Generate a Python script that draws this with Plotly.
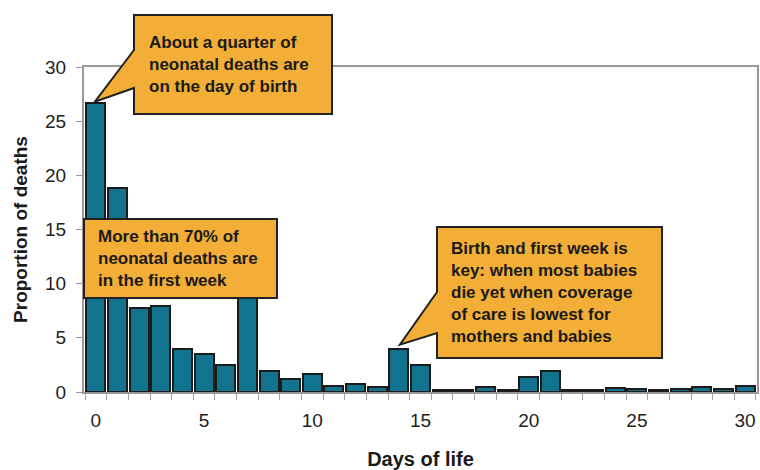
import plotly.graph_objects as go

# ---- data ----
days = list(range(0, 31))
proportion = [26.7, 18.8, 7.8, 7.9, 4.0, 3.5, 2.5, 11.0, 1.9, 1.2,
              1.7, 0.6, 0.7, 0.5, 4.0, 2.5, 0.2, 0.2, 0.45, 0.15,
              1.35, 1.9, 0.15, 0.15, 0.35, 0.25, 0.2, 0.25, 0.45, 0.25, 0.6]
x_ticks = [0, 5, 10, 15, 20, 25, 30]
y_ticks = [0, 5, 10, 15, 20, 25, 30]
note_birth = ["About a quarter of", "neonatal deaths are", "on the day of birth"]
note_week = ["More than 70% of", "neonatal deaths are", "in the first week"]
note_key = ["Birth and first week is", "key: when most babies", "die yet when coverage",
            "of care is lowest for", "mothers and babies"]

# ---- layout geometry (pixels) ----
W, H = 760, 470
L, R, T, B = 84, 757, 67, 392
XR = [-0.55, 30.55]
YR = [0, 30]

def px(xp):
    return (xp - L) / (R - L)

def py(yp):
    return (B - yp) / (B - T)

def data_xpix(v):
    return L + (v - XR[0]) / (XR[1] - XR[0]) * (R - L)

def data_ypix(v):
    return B - (v - YR[0]) / (YR[1] - YR[0]) * (B - T)

FONT = "Liberation Sans, Arial, sans-serif"
BOX_FILL = "#f2ae36"
BOX_LINE = "#222222"

fig = go.Figure()
fig.add_trace(go.Bar(
    x=days, y=proportion, width=0.88,
    marker=dict(color="#12738f", line=dict(color="#1b1b1b", width=2)),
    showlegend=False, hoverinfo="x+y"))


def callout_path(box, tip=None, gap=None):
    x0, y0, x1, y1 = box
    pts = [(x0, y0), (x1, y0), (x1, y1), (x0, y1)]
    if tip is not None:
        g_top, g_bot = gap
        pts += [(x0, g_bot), tip, (x0, g_top)]
    d = "M " + " L ".join(f"{px(a):.5f},{py(b):.5f}" for a, b in pts) + " Z"
    return d

shapes = []
tip1 = (data_xpix(days[0]) - 1, data_ypix(proportion[0]) - 1)
tip3 = (data_xpix(days[14]) + 1, data_ypix(proportion[14]) - 4)
boxes = [
    ((134, 15, 332, 114), tip1, (50, 88)),
    ((84, 219, 277, 298), None, None),
    ((437, 227, 662, 358), tip3, (292, 333)),
]
for box, tip, gap in boxes:
    shapes.append(dict(type="path", xref="paper", yref="paper",
                       path=callout_path(box, tip, gap),
                       fillcolor=BOX_FILL, line=dict(color=BOX_LINE, width=2),
                       layer="above"))

annotations = []
for lines, (tx, box) in zip([note_birth, note_week, note_key],
                            [(147, boxes[0][0]), (96, boxes[1][0]), (449, boxes[2][0])]):
    cy = (box[1] + box[3]) / 2
    annotations.append(dict(
        xref="paper", yref="paper", x=px(tx), y=py(cy),
        xanchor="left", yanchor="middle", align="left", showarrow=False,
        text="<br>".join(lines),
        font=dict(family=FONT, size=17, color="#1a1a1a", weight="bold")))

fig.update_layout(
    width=W, height=H, autosize=False,
    margin=dict(l=L, r=W - R, t=T, b=H - B, pad=0),
    paper_bgcolor="white", plot_bgcolor="white",
    bargap=0,
    shapes=shapes, annotations=annotations,
    xaxis=dict(range=XR, tickmode="array", tickvals=x_ticks,
               ticktext=[str(v) for v in x_ticks], ticks="",
               showgrid=False, zeroline=False, automargin=False,
               showline=True, linecolor="#999999", linewidth=2, mirror=True,
               tickfont=dict(family=FONT, size=19, color="#222222"),
               ticklabelstandoff=10,
               minor=dict(tickmode="linear", tick0=-0.5, dtick=1, ticks="outside",
                          ticklen=6, tickcolor="#b0a295", tickwidth=1, showgrid=False),
               title=dict(text="Days of life", standoff=22,
                          font=dict(family=FONT, size=20, color="#1a1a1a", weight="bold"))),
    yaxis=dict(range=YR, tickmode="array", tickvals=y_ticks,
               ticks="outside", ticklen=6, tickcolor="#999999", tickwidth=1,
               showgrid=False, zeroline=False, automargin=False,
               showline=True, linecolor="#999999", linewidth=2, mirror=True,
               tickfont=dict(family=FONT, size=19, color="#222222"),
               ticklabelstandoff=6,
               title=dict(text="Proportion of deaths", standoff=12,
                          font=dict(family=FONT, size=19, color="#1a1a1a", weight="bold"))),
)

fig.write_html(
    "out.html",
    config={"responsive": False, "displayModeBar": False},
    post_script="document.body.style.margin='0';document.body.style.overflow='hidden';",
)
